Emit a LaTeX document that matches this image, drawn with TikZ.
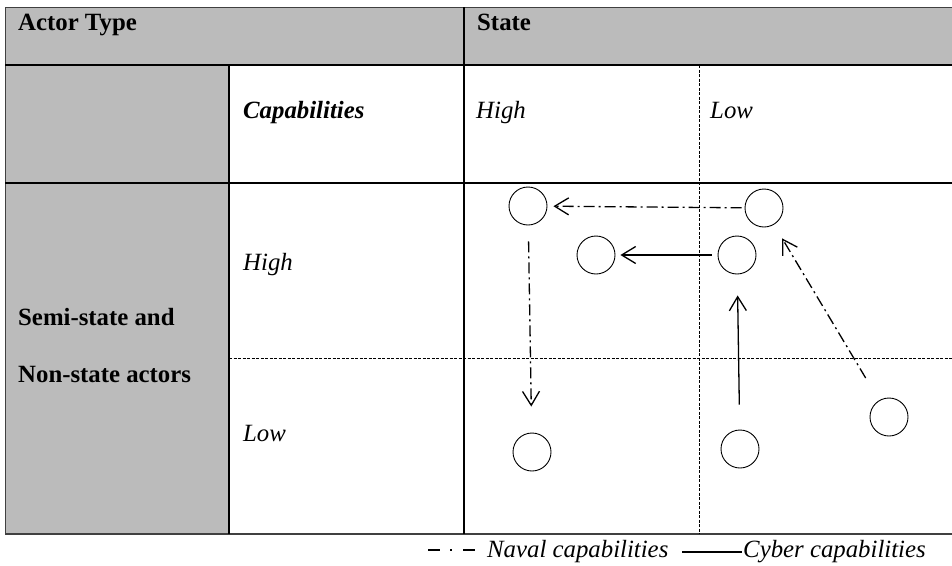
\documentclass[tikz,border=0pt]{standalone}
\usepackage{fontspec}
\setmainfont{Liberation Serif}
\usetikzlibrary{arrows.meta}
\definecolor{hdrgray}{RGB}{187,187,187}
\newcommand{\tabfont}{\fontsize{24.8}{29}\selectfont}
\begin{document}
\begin{tikzpicture}[x=1pt,y=-1pt,
  thickrule/.style={line width=2pt},
  thinrule/.style={line width=1pt, black!75},
  dashrule/.style={line width=0.9pt, dash pattern=on 3pt off 1.5pt},
  actor/.style={circle, draw, line width=0.9pt, minimum size=38pt, inner sep=0pt},
  naval/.style={line width=1.3pt, dash pattern=on 11pt off 4pt on 2pt off 4pt, -{Straight Barb[length=14pt,width=17pt]}},
  cyber/.style={line width=1.3pt, -{Straight Barb[length=14pt,width=17pt]}},
  lbl/.style={anchor=base west, inner sep=0pt, font=\tabfont},
]
\useasboundingbox (0,0) rectangle (952,565);
% backgrounds
\fill[hdrgray] (5,7) rectangle (952,65);
\fill[hdrgray] (5,65) rectangle (229,534);
% borders
\draw[thinrule] (5,7) -- (952,7);
\draw[thinrule] (5,7) -- (5,534);
\draw[thinrule, line width=1.3pt] (5,534) -- (952,534);
\draw[dashrule] (699,65) -- (699,534);
\draw[dashrule] (229,358) -- (952,358);
\draw[thickrule] (5,65) -- (952,65);
\draw[thickrule] (5,183) -- (952,183);
\draw[thickrule] (464,7) -- (464,534);
\draw[thickrule] (229,65) -- (229,534);
% texts
\node[lbl, font=\tabfont\bfseries] (t1) at (18,30) {Actor Type};
\node[lbl, font=\tabfont\bfseries] (t2) at (477,30) {State};
\node[lbl, font=\tabfont\bfseries\itshape] (t3) at (243,118) {Capabilities};
\node[lbl, font=\tabfont\itshape] (t4) at (476,118) {High};
\node[lbl, font=\tabfont\itshape] (t5) at (710,118) {Low};
\node[lbl, font=\tabfont\itshape] (t6) at (243,270) {High};
\node[lbl, font=\tabfont\itshape] (t7) at (243,441) {Low};
\node[lbl, font=\tabfont\bfseries] (t8) at (18,325) {Semi-state and};
\node[lbl, font=\tabfont\bfseries] (t9) at (18,382) {Non-state actors};
% actors
\node[actor] (A) at (528,206) {};
\node[actor] (B) at (764,208) {};
\node[actor] (C) at (596,255) {};
\node[actor] (D) at (737,255) {};
\node[actor] (E) at (532,452) {};
\node[actor] (F) at (740,449) {};
\node[actor] (G) at (889,417) {};
% arrows
\draw[naval, shorten <=3pt, shorten >=6pt] (B) -- (A);
\draw[naval, shorten <=16pt, shorten >=26pt] (A) -- (E);
\draw[naval, shorten <=26pt, shorten >=16pt] (G) -- (B);
\draw[cyber, shorten <=6pt, shorten >=5pt] (D) -- (C);
\draw[cyber, shorten <=25pt, shorten >=21pt] (F) -- (D);
% legend
\coordinate (n1) at (428,550);
\coordinate (n2) at (475,550);
\coordinate (c1) at (682,552);
\coordinate (c2) at (742,552);
\draw[line width=2.5pt, dash pattern=on 12pt off 10pt on 2pt off 11pt] (n1) -- (n2);
\draw[line width=2pt] (c1) -- (c2);
\node[lbl, font=\tabfont\itshape] (ln) at (487,557) {Naval capabilities};
\node[lbl, font=\tabfont\itshape] (lc) at (743,557) {Cyber capabilities};
\end{tikzpicture}
\end{document}
